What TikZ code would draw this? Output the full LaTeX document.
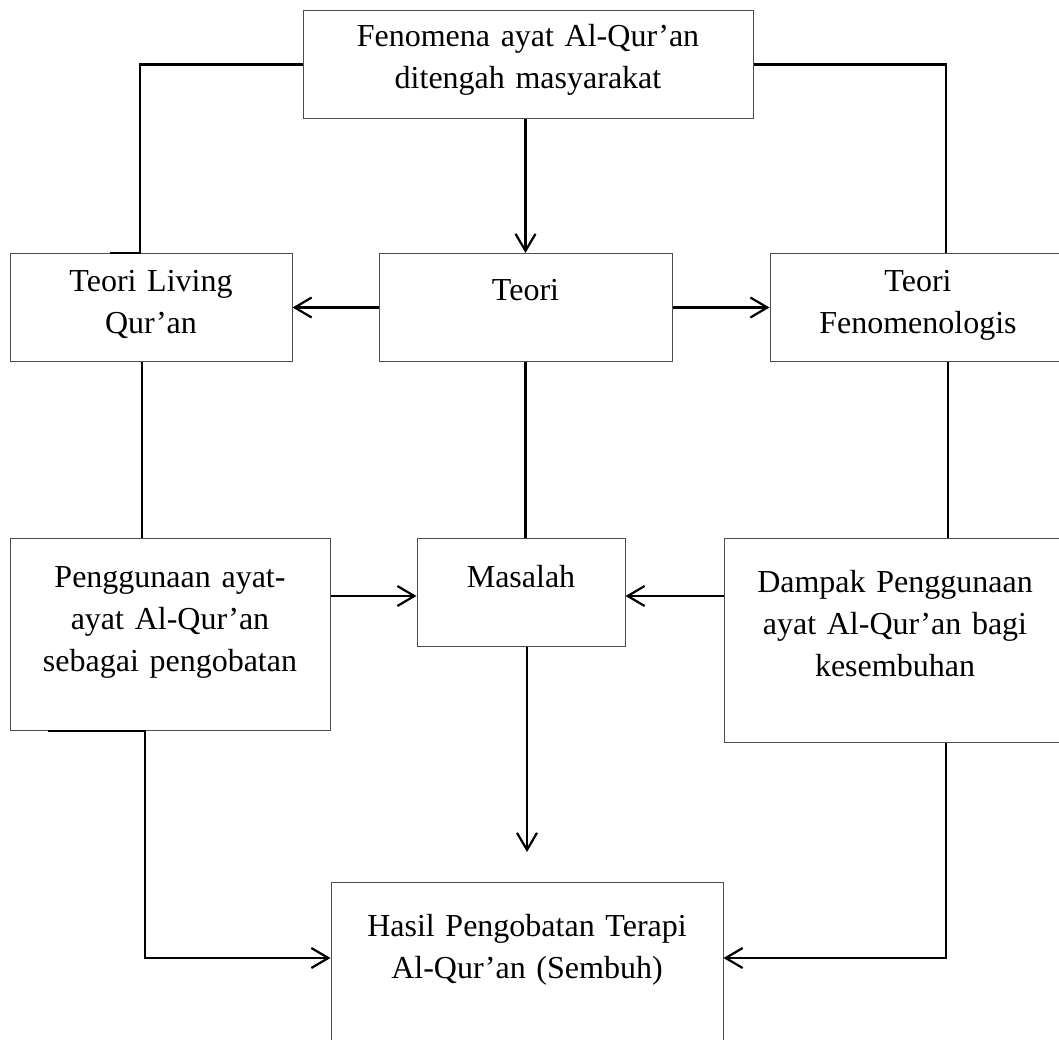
\documentclass[tikz,border=0pt]{standalone}
\usepackage{fontspec}
\setmainfont{Liberation Serif}
\usetikzlibrary{positioning,arrows.meta,calc}
\tikzset{
  box/.style ={draw=black!70, line width=0.5pt, inner sep=0pt, align=center, font=\boxfont},
  ln/.style  ={line width=1.1pt},
  arr/.style ={ln, -{Straight Barb[length=8.5pt,width=10pt]}}
}
\newcommand{\boxfont}{\fontsize{16}{21}\selectfont}

\begin{document}
\begin{tikzpicture}
  \useasboundingbox (0,0) rectangle (529.5pt,-519.5pt);
  \node[box, anchor=north, text width=225pt, text height=18pt, text depth=36pt] (fen) at (264pt,-5pt) {Fenomena ayat Al-Qur’an\\ditengah masyarakat};
  \node[box, below=67pt of fen, xshift=-1.25pt, text width=146.5pt, text height=23.5pt, text depth=30.5pt] (teori) {Teori};
  \node[box, left=43pt of teori, text width=141pt, text height=19pt, text depth=35pt] (living) {Teori Living\\Qur’an};
  \node[box, right=48.5pt of teori, text width=148pt, text height=19pt, text depth=35pt] (fenom) {Teori\\Fenomenologis};

  \node[box, below=88pt of teori, xshift=-2.25pt, text width=104pt, text height=24.5pt, text depth=29.5pt] (masalah) {Masalah};
  \node[box, left=43pt of masalah.north west, anchor=north east, text width=160pt, text height=24.5pt, text depth=71.5pt] (pengg) {Penggunaan ayat-\\ayat Al-Qur’an\\sebagai pengobatan};
  \node[box, right=49pt of masalah.north east, anchor=north west, text width=171pt, text height=27pt, text depth=75pt] (dampak) {Dampak Penggunaan\\ayat Al-Qur’an bagi\\kesembuhan};
  \node[box, below=117.5pt of masalah, xshift=3pt, text width=196pt, text height=27pt, text depth=73pt] (hasil) {Hasil Pengobatan Terapi\\Al-Qur’an (Sembuh)};
  \coordinate (gap) at ($(hasil.north)+(0,15pt)$);

  % top row
  \draw[ln](fen.west) -| ([xshift=-5.5pt]living.north) -- ([xshift=-20.5pt]living.north);
  \draw[ln](fen.east) -| ([xshift=14pt]fenom.north);
  \draw[arr](teori.north |- fen.south) -- (teori);
  \draw[arr](teori) -- (living);
  \draw[arr](teori) -- (fenom);

  % middle row
  \draw[ln]([xshift=-4.5pt]living.south) -- ([xshift=-4.5pt]living.south |- pengg.north);
  \draw[ln](teori.south) -- (teori.south |- masalah.north);
  \draw[ln]([xshift=15pt]fenom.south) -- ([xshift=15pt]fenom.south |- dampak.north);
  \draw[arr]([yshift=-29pt]pengg.north east) -- ([yshift=-29pt]masalah.north west);
  \draw[arr]([yshift=-29pt]dampak.north west) -- ([yshift=-29pt]masalah.north east);

  % to the result
  \draw[arr](masalah.south -| hasil.north) -- (gap);
  \draw[arr]([xshift=-61pt]pengg.south) -- ([xshift=-12.5pt]pengg.south) |- ([yshift=-38pt]hasil.north west);
  \draw[arr]([xshift=25.5pt]dampak.south) |- ([yshift=-38pt]hasil.north east);
\end{tikzpicture}
\end{document}
